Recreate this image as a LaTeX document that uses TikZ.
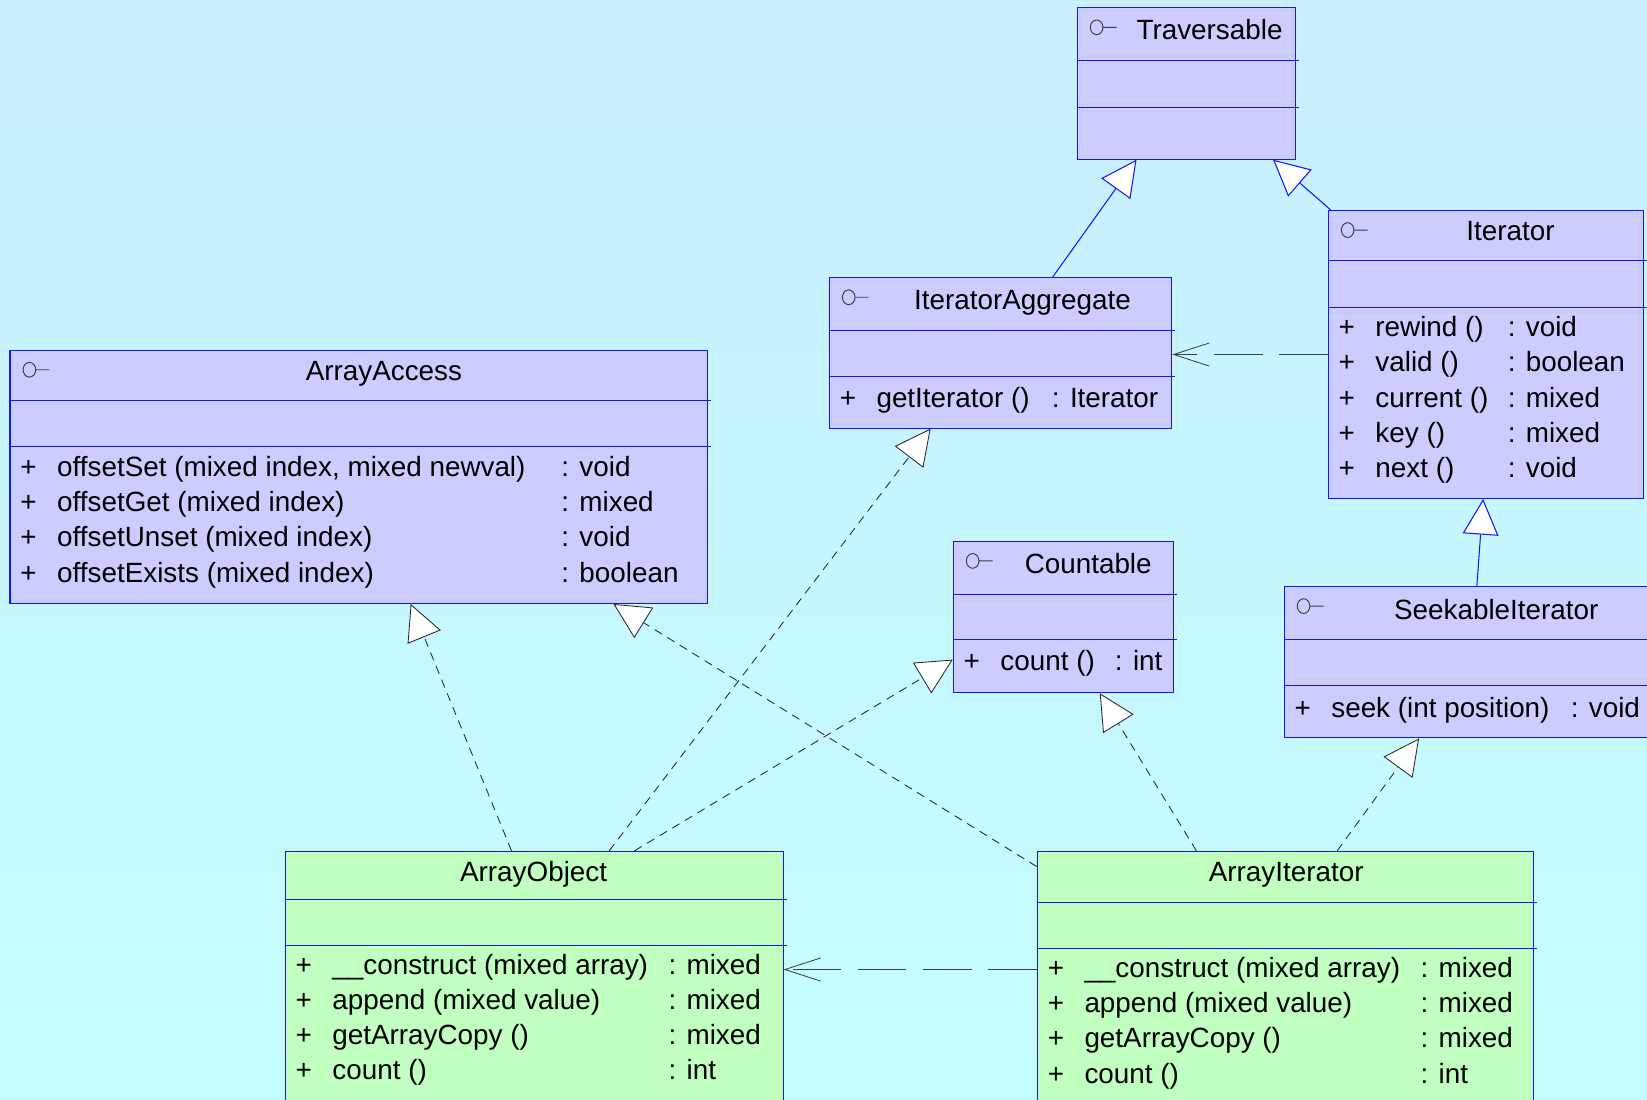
\documentclass[tikz,border=0pt]{standalone}
\usepackage{fontspec}
\setmainfont{Liberation Sans}
\usetikzlibrary{arrows.meta,calc}
\definecolor{bgtop}{RGB}{200,238,255}
\definecolor{bgbot}{RGB}{196,255,255}
\definecolor{ifill}{RGB}{204,204,255}
\definecolor{cfill}{RGB}{192,255,192}
\definecolor{umlblue}{RGB}{20,20,255}
\definecolor{icongray}{RGB}{60,60,60}

\newcommand{\ifaceicon}[1]{%
  \draw[icongray,line width=0.9pt] ($(#1.north west)+(19,19)$) circle[x radius=6pt,y radius=7pt]
    ($(#1.north west)+(25,19)$) -- ++(13,0);}
\newcommand{\seplines}[3]{%
  \draw[umlblue] ($(#1.north west)+(0,#2)$) -- ($(#1.north east)+(3,#2)$);
  \draw[umlblue] ($(#1.north west)+(0,#3)$) -- ($(#1.north east)+(3,#3)$);}
\newcommand{\members}[4]{%
  \foreach \nm/\ty [count=\i] in {#4} {
    \node[txt] (#1m\i) at ($(#1.north west)+(10,{#2+(\i-1)*33.5})$) {\makebox[35pt][l]{+}\nm};
    \node[txt] (#1t\i) at ($(#1.north west)+(#3,{#2+(\i-1)*33.5})$) {\ty};
  }}

\begin{document}
\begin{tikzpicture}[x=1pt,y=-1pt,line width=1pt,
  font=\fontsize{26.5}{30}\selectfont,
  iface/.style={draw=umlblue,fill=ifill,anchor=north west,inner sep=0pt},
  cls/.style={draw=umlblue,fill=cfill,anchor=north west,inner sep=0pt},
  txt/.style={anchor=mid west,inner sep=0pt},
  ttl/.style={anchor=base,inner sep=0pt},
  gen/.style={umlblue,-{Triangle[length=34pt,width=34pt,fill=white]}},
  real/.style={black!85,line width=0.8pt,dash pattern=on 8pt off 6pt,
    -{Triangle[length=34pt,width=34pt,fill=white]}},
  dep/.style={black!75,line width=0.8pt,dash pattern=on 46pt off 16pt,
    -{Straight Barb[length=34pt,width=22pt]}}]
  \useasboundingbox (0,0) rectangle (1568,1047);
  \clip (0,0) rectangle (1568,1047);
  \shade[top color=bgtop,bottom color=bgbot] (0,0) rectangle (1568,1047);

  % interfaces
  \node[iface,minimum width=208pt,minimum height=144pt] (trav) at (1025,7) {};
  \node[iface,minimum width=300pt,minimum height=274pt] (iter) at (1264,200) {};
  \node[iface,minimum width=326pt,minimum height=143pt] (iagg) at (789,264) {};
  \node[iface,minimum width=664pt,minimum height=241pt] (aacc) at (9,333) {};
  \node[iface,minimum width=210pt,minimum height=144pt] (count) at (907,515) {};
  \node[iface,minimum width=360pt,minimum height=144pt] (seek) at (1222,558) {};
  % classes
  \node[cls,minimum width=474pt,minimum height=300pt] (aobj) at (271,810) {};
  \node[cls,minimum width=472pt,minimum height=300pt] (aiter) at (987,810) {};

  \seplines{trav}{51}{95}
  \seplines{iter}{48}{93}
  \seplines{iagg}{51}{94}
  \seplines{aacc}{48}{92}
  \seplines{count}{51}{94}
  \seplines{seek}{51}{95}
  \seplines{aobj}{46}{90}
  \seplines{aiter}{49}{93}

  \ifaceicon{trav}
  \ifaceicon{iter}
  \ifaceicon{iagg}
  \ifaceicon{aacc}
  \ifaceicon{count}
  \ifaceicon{seek}

  \node[ttl] (travT) at ($(trav.north west)+(126.5,31)$) {Traversable};
  \node[ttl] (iterT) at ($(iter.north west)+(174,29)$) {Iterator};
  \node[ttl] (iaggT) at ($(iagg.north west)+(184.5,31)$) {IteratorAggregate};
  \node[ttl] (aaccT) at ($(aacc.north west)+(356.5,29.5)$) {ArrayAccess};
  \node[ttl] (countT) at ($(count.north west)+(129,31)$) {Countable};
  \node[ttl] (seekT) at ($(seek.north west)+(202.5,31.5)$) {SeekableIterator};
  \node[ttl] (aobjT) at ($(aobj.north west)+(237,29.5)$) {ArrayObject};
  \node[ttl] (aiterT) at ($(aiter.north west)+(237.5,29.5)$) {ArrayIterator};

  \members{iter}{118}{171}{rewind ()/: void, valid ()/: boolean, current ()/: mixed,
    key ()/: mixed, next ()/: void}
  \members{iagg}{121}{212}{getIterator ()/: Iterator}
  \members{aacc}{118}{525}{{offsetSet (mixed index, mixed newval)}/: void,
    offsetGet (mixed index)/: mixed, offsetUnset (mixed index)/: void,
    offsetExists (mixed index)/: boolean}
  \members{count}{121}{154}{count ()/: int}
  \members{seek}{122}{273}{seek (int position)/: void}
  \members{aobj}{115}{365}{\_\_construct (mixed array)/: mixed, append (mixed value)/: mixed,
    getArrayCopy ()/: mixed, count ()/: int}
  \members{aiter}{118}{365}{\_\_construct (mixed array)/: mixed, append (mixed value)/: mixed,
    getArrayCopy ()/: mixed, count ()/: int}

  % generalization
  \draw[gen] ($(iagg.north west)+(213,0)$) -- ($(trav.south west)+(57,0)$);
  \draw[gen] ($(iter.north west)+(3,0)$) -- ($(trav.south west)+(187,0)$);
  \draw[gen] ($(seek.north west)+(184,0)$) -- ($(iter.south west)+(148,0)$);
  % realization
  \draw[real] ($(aobj.north west)+(216,0)$) -- ($(aacc.south west)+(382,0)$);
  \draw[real] ($(aobj.north west)+(309,0)$) -- ($(iagg.south west)+(97,0)$);
  \draw[real] ($(aobj.north west)+(333,0)$) -- ($(count.north west)+(0,113)$);
  \draw[real] ($(aiter.north west)+(0,15)$) -- ($(aacc.south west)+(575,0)$);
  \draw[real] ($(aiter.north west)+(152,0)$) -- ($(count.south west)+(140,0)$);
  \draw[real] ($(aiter.north west)+(286,0)$) -- ($(seek.south west)+(129,0)$);
  % dependency
  \draw[dep] (iter.west) -- (iter.west -| iagg.east);
  \draw[dep] ($(aiter.north west)+(0,113)$) coordinate (dsrc) -- (dsrc -| aobj.east);
\end{tikzpicture}
\end{document}
